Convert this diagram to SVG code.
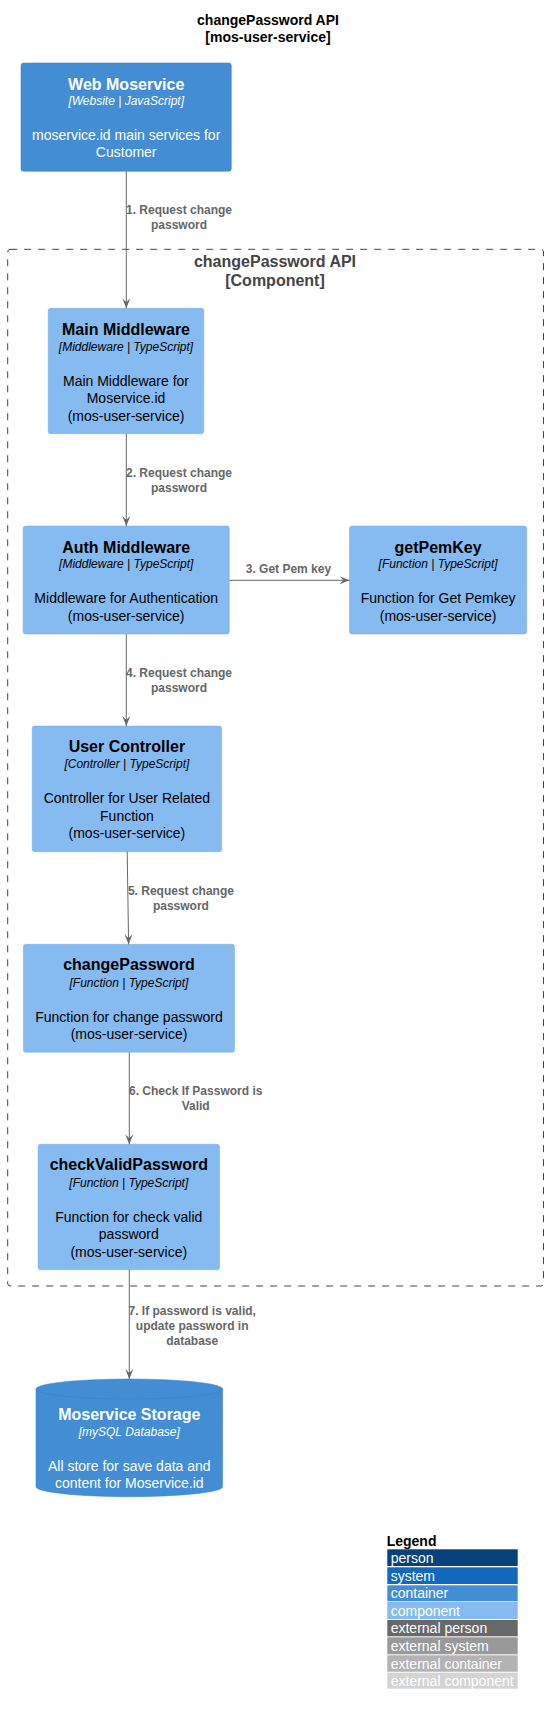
<svg xmlns="http://www.w3.org/2000/svg" width="548" height="1715" viewBox="0 0 548 1715">
<style>
text{font-family:"Liberation Sans",Arial,sans-serif;text-anchor:middle}
.title{font-size:14px;font-weight:bold;fill:#000}
.btitle{font-size:16px;font-weight:bold;fill:#444}
.name{font-size:16px;font-weight:bold}
.tech{font-size:12px;font-style:italic}
.desc{font-size:14px}
.cmp rect{fill:#85BBF0;stroke:#78A8D8;stroke-width:0.5}
.cmp text{fill:#000}
.cnt rect,.cnt path{fill:#438DD5;stroke:#3C7FC0;stroke-width:0.5}
.cnt text{fill:#FFF}
.lbl{font-size:12px;font-weight:bold;fill:#666}
.edge line{stroke:#666;stroke-width:1}
.edge path{fill:#666;stroke:#666;stroke-width:1}
.lg text{font-size:14px;fill:#FFF;text-anchor:start}
</style>
<defs>
<marker id="ah" viewBox="0 0 10 8" refX="10" refY="4" markerWidth="10" markerHeight="8" markerUnits="userSpaceOnUse" orient="auto">
<path d="M0,0 L10,4 L0,8 L4,4 Z" fill="#666"/>
</marker>
</defs>
<text class="title" x="268" y="25">changePassword API</text>
<text class="title" x="268" y="41.7">[mos-user-service]</text>

<g id="boundary">
<rect x="7.7" y="249.3" width="535.8" height="1036.7" rx="2.5" fill="none" stroke="#444" stroke-width="1" stroke-dasharray="7,7"/>
<text class="btitle" x="275" y="266.7">changePassword API</text>
<text class="btitle" x="275" y="285.7">[Component]</text>
</g>

<g id="webMoservice" class="cnt">
<rect x="21" y="63" width="210.3" height="108.3" rx="2.5"/>
<text class="name" x="126.2" y="90">Web Moservice</text>
<text class="tech" x="126.2" y="105.3">[Website | JavaScript]</text>
<text class="desc" x="126.2" y="140">moservice.id main services for</text>
<text class="desc" x="126.2" y="157.3">Customer</text>
</g>

<g id="mainMiddleware" class="cmp">
<rect x="48.2" y="308.3" width="155.6" height="125.4" rx="2.5"/>
<text class="name" x="126" y="335">Main Middleware</text>
<text class="tech" x="126" y="350.7">[Middleware | TypeScript]</text>
<text class="desc" x="126" y="386">Main Middleware for</text>
<text class="desc" x="126" y="403.3">Moservice.id</text>
<text class="desc" x="126" y="420.7">(mos-user-service)</text>
</g>

<g id="authMiddleware" class="cmp">
<rect x="23.1" y="526" width="206.2" height="108" rx="2.5"/>
<text class="name" x="126.2" y="552.7">Auth Middleware</text>
<text class="tech" x="126.2" y="568.3">[Middleware | TypeScript]</text>
<text class="desc" x="126.2" y="603.3">Middleware for Authentication</text>
<text class="desc" x="126.2" y="620.7">(mos-user-service)</text>
</g>

<g id="getPemKey" class="cmp">
<rect x="349.5" y="526" width="177.2" height="108" rx="2.5"/>
<text class="name" x="438.1" y="552.7">getPemKey</text>
<text class="tech" x="438.1" y="568.3">[Function | TypeScript]</text>
<text class="desc" x="438.1" y="603.3">Function for Get Pemkey</text>
<text class="desc" x="438.1" y="620.7">(mos-user-service)</text>
</g>

<g id="userController" class="cmp">
<rect x="32.2" y="726" width="189.4" height="125.7" rx="2.5"/>
<text class="name" x="126.9" y="752.3">User Controller</text>
<text class="tech" x="126.9" y="768.3">[Controller | TypeScript]</text>
<text class="desc" x="126.9" y="803.3">Controller for User Related</text>
<text class="desc" x="126.9" y="820.7">Function</text>
<text class="desc" x="126.9" y="838.3">(mos-user-service)</text>
</g>

<g id="changePassword" class="cmp">
<rect x="23.4" y="944.3" width="211.1" height="108" rx="2.5"/>
<text class="name" x="129" y="970">changePassword</text>
<text class="tech" x="129" y="986.7">[Function | TypeScript]</text>
<text class="desc" x="129" y="1021.7">Function for change password</text>
<text class="desc" x="129" y="1039">(mos-user-service)</text>
</g>

<g id="checkValidPassword" class="cmp">
<rect x="38.1" y="1144.3" width="181.4" height="125.4" rx="2.5"/>
<text class="name" x="128.8" y="1170">checkValidPassword</text>
<text class="tech" x="128.8" y="1187">[Function | TypeScript]</text>
<text class="desc" x="128.8" y="1221.7">Function for check valid</text>
<text class="desc" x="128.8" y="1239">password</text>
<text class="desc" x="128.8" y="1256.7">(mos-user-service)</text>
</g>

<g id="moserviceStorage" class="cnt">
<path d="M36,1389 A93.3,10 0 0 1 222.6,1389 V1486.7 A93.3,10 0 0 1 36,1486.7 Z"/>
<path d="M36,1389 A93.3,10 0 0 0 222.6,1389" fill="none"/>
<text class="name" x="129.3" y="1420">Moservice Storage</text>
<text class="tech" x="129.3" y="1436">[mySQL Database]</text>
<text class="desc" x="129.3" y="1470.7">All store for save data and</text>
<text class="desc" x="129.3" y="1487.7">content for Moservice.id</text>
</g>

<g id="connectors" class="edge">
<line x1="126.3" y1="171.3" x2="126.3" y2="308.3" marker-end="url(#ah)"/>
<text class="lbl" x="179" y="214.3">1. Request change</text>
<text class="lbl" x="179" y="229.3">password</text>
<line x1="126.3" y1="433.7" x2="126.3" y2="526" marker-end="url(#ah)"/>
<text class="lbl" x="179" y="477.3">2. Request change</text>
<text class="lbl" x="179" y="492.3">password</text>
<line x1="229.3" y1="580.3" x2="349.5" y2="580.3" marker-end="url(#ah)"/>
<text class="lbl" x="288.4" y="573.3">3. Get Pem key</text>
<line x1="126.3" y1="634" x2="126.3" y2="726" marker-end="url(#ah)"/>
<text class="lbl" x="179" y="677.3">4. Request change</text>
<text class="lbl" x="179" y="692.3">password</text>
<line x1="127.2" y1="851.7" x2="128.6" y2="944.3" marker-end="url(#ah)"/>
<text class="lbl" x="180.9" y="895.3">5. Request change</text>
<text class="lbl" x="180.9" y="910.3">password</text>
<line x1="129.3" y1="1052.3" x2="129.3" y2="1144.3" marker-end="url(#ah)"/>
<text class="lbl" x="195.7" y="1095.3">6. Check If Password is</text>
<text class="lbl" x="195.7" y="1110.3">Valid</text>
<line x1="129.3" y1="1269.7" x2="129.3" y2="1379" marker-end="url(#ah)"/>
<text class="lbl" x="192.2" y="1315.3">7. If password is valid,</text>
<text class="lbl" x="192.2" y="1330.3">update password in</text>
<text class="lbl" x="192.2" y="1345.3">database</text>
</g>

<g id="legend" class="lg">
<text x="386.7" y="1545.7" style="font-weight:bold;fill:#000">Legend</text>
<rect x="387.3" y="1549.3" width="130.4" height="16.7" fill="#08427B"/>
<text x="390.7" y="1562.6">person</text>
<rect x="387.3" y="1567.3" width="130.4" height="16.7" fill="#1168BD"/>
<text x="390.7" y="1580.6">system</text>
<rect x="387.3" y="1585.3" width="130.4" height="16" fill="#438DD5"/>
<text x="390.7" y="1598.2">container</text>
<rect x="387.3" y="1602" width="130.4" height="17" fill="#85BBF0"/>
<text x="390.7" y="1615.6">component</text>
<rect x="387.3" y="1620" width="130.4" height="16.3" fill="#686868"/>
<text x="390.7" y="1633.2">external person</text>
<rect x="387.3" y="1637.3" width="130.4" height="17" fill="#999999"/>
<text x="390.7" y="1650.8">external system</text>
<rect x="387.3" y="1655.3" width="130.4" height="16.4" fill="#B3B3B3"/>
<text x="390.7" y="1668.5">external container</text>
<rect x="387.3" y="1672.7" width="130.4" height="16" fill="#D4D4D4"/>
<text x="390.7" y="1685.6">external component</text>
</g>
</svg>
